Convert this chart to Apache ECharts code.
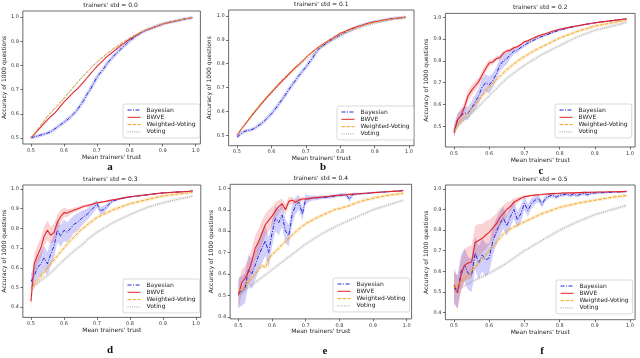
<!DOCTYPE html>
<html><head><meta charset="utf-8">
<script src="https://cdn.jsdelivr.net/npm/echarts@6/dist/echarts.min.js"></script>
<style>html,body{margin:0;padding:0;background:#fff}#c{width:640px;height:358px}</style>
</head><body><div id="c"></div>
<script>
// ---- data ----
const trust = [0.50,0.51,0.52,0.53,0.54,0.55,0.56,0.57,0.58,0.59,0.60,0.61,0.62,0.63,0.64,0.65,0.66,0.67,0.68,0.69,0.70,0.71,0.72,0.73,0.74,0.75,0.76,0.77,0.78,0.79,0.80,0.81,0.82,0.83,0.84,0.85,0.86,0.87,0.88,0.89,0.90,0.91,0.92,0.93,0.94,0.95,0.96,0.97,0.98,0.99];
const xTicks = [0.5,0.6,0.7,0.8,0.9,1.0];
const yTicksHigh = [0.5,0.6,0.7,0.8,0.9,1.0];
const yTicksLow = [0.4,0.5,0.6,0.7,0.8,0.9,1.0];
const stds = ['0.0','0.1','0.2','0.3','0.4','0.5'];
const letters = ['a','b','c','d','e','f'];
const methods = ['Bayesian','BWVE','Weighted-Voting','Voting'];

// panel a (std 0.0)
const bayesA = [.500,.505,.508,.512,.516,.520,.526,.535,.545,.555,.565,.575,.587,.600,.615,.635,.655,.680,.700,.725,.750,.768,.785,.805,.822,.837,.851,.864,.877,.890,.902,.912,.922,.931,.939,.946,.951,.956,.961,.966,.971,.975,.978,.981,.984,.987,.990,.993,.995,.998];
const bwveA = [.500,.515,.530,.545,.560,.575,.588,.600,.615,.632,.648,.662,.676,.690,.702,.716,.732,.748,.764,.780,.795,.808,.822,.835,.846,.857,.868,.879,.889,.899,.908,.917,.925,.933,.940,.946,.951,.956,.961,.966,.971,.975,.978,.981,.984,.987,.990,.993,.995,.998];
const wvA = [.500,.518,.536,.554,.572,.590,.605,.620,.635,.650,.665,.681,.697,.713,.729,.745,.759,.773,.787,.801,.815,.826,.837,.848,.859,.870,.879,.888,.897,.906,.915,.922,.928,.935,.941,.948,.953,.958,.962,.967,.972,.975,.978,.982,.985,.988,.990,.993,.995,.998];
const votA = [.500,.516,.533,.550,.568,.586,.601,.616,.631,.646,.661,.677,.693,.709,.725,.741,.756,.770,.784,.798,.812,.823,.834,.845,.856,.867,.876,.885,.894,.903,.912,.919,.926,.933,.939,.946,.951,.956,.961,.966,.971,.974,.977,.981,.984,.987,.990,.993,.995,.998];

// panel b (std 0.1)
const bayesB = [.492,.505,.515,.520,.522,.528,.538,.548,.560,.575,.590,.608,.628,.648,.668,.690,.710,.730,.750,.768,.785,.805,.825,.848,.866,.876,.886,.896,.905,.913,.921,.928,.935,.942,.948,.954,.959,.964,.968,.972,.976,.978,.981,.983,.986,.988,.990,.991,.993,.995];
const bwveB = [.500,.520,.540,.558,.577,.595,.612,.630,.647,.664,.680,.695,.711,.726,.740,.755,.770,.784,.797,.811,.825,.838,.850,.862,.872,.882,.891,.900,.909,.918,.927,.933,.939,.945,.950,.955,.959,.964,.968,.972,.976,.978,.981,.983,.986,.988,.990,.991,.993,.995];
const wvB = [.502,.522,.543,.562,.581,.600,.618,.635,.652,.668,.684,.700,.716,.731,.745,.760,.774,.787,.800,.813,.826,.838,.850,.861,.871,.881,.890,.899,.908,.916,.924,.930,.936,.942,.947,.952,.957,.962,.966,.970,.974,.977,.980,.982,.985,.987,.989,.991,.993,.995];
const votB = [.500,.519,.538,.556,.574,.592,.609,.626,.643,.659,.675,.690,.705,.720,.735,.749,.763,.777,.790,.803,.816,.828,.840,.851,.862,.872,.881,.890,.899,.907,.915,.922,.929,.935,.941,.946,.951,.956,.960,.964,.968,.972,.975,.978,.981,.984,.987,.989,.991,.993];

// panel c (std 0.2)
const bayesC = [.480,.530,.550,.560,.560,.585,.610,.640,.680,.700,.690,.710,.740,.780,.800,.810,.830,.845,.850,.862,.872,.882,.890,.898,.906,.912,.918,.924,.930,.936,.941,.945,.950,.953,.957,.960,.963,.966,.969,.972,.975,.977,.979,.981,.983,.985,.987,.989,.991,.993];
const bwveC = [.470,.530,.550,.590,.640,.665,.685,.705,.735,.765,.790,.795,.810,.815,.835,.845,.850,.860,.865,.875,.888,.892,.900,.908,.915,.920,.925,.930,.936,.941,.945,.948,.952,.955,.958,.961,.964,.967,.970,.972,.975,.977,.979,.981,.983,.985,.987,.989,.991,.993];
const wvC = [.480,.505,.525,.545,.562,.580,.600,.620,.640,.660,.680,.697,.712,.728,.745,.760,.773,.786,.798,.810,.820,.830,.840,.849,.857,.865,.873,.881,.889,.897,.905,.911,.917,.923,.929,.935,.940,.945,.950,.955,.960,.963,.966,.969,.972,.975,.978,.981,.984,.988];
const votC = [.480,.498,.515,.530,.545,.560,.575,.590,.608,.625,.640,.657,.672,.690,.705,.720,.732,.745,.757,.768,.780,.790,.800,.810,.820,.830,.838,.846,.854,.862,.870,.878,.886,.894,.902,.910,.916,.922,.928,.934,.940,.944,.948,.952,.956,.960,.964,.968,.972,.976];
const bandBayesC = [30,30,30,30,30,30,35,35,40,40,40,35,30,30,30,25,20,15,12,10,8,8,6,6,6,5,5,5,5,4,4,4,4,4,4,3,3,3,3,3,3,3,3,3,3,3,3,3,3,3];
const bandBwveC = [20,25,25,25,25,25,22,20,20,18,15,12,10,10,10,8,8,8,6,6,6,5,5,5,5,5,4,4,4,4,4,4,4,4,3,3,3,3,3,3,3,3,3,3,3,3,3,3,3,3];

// panel d (std 0.3)
const bayesD = [.530,.560,.600,.620,.650,.620,.670,.710,.790,.760,.790,.780,.800,.820,.830,.845,.860,.870,.890,.905,.925,.890,.895,.910,.930,.940,.945,.950,.954,.957,.960,.962,.964,.966,.968,.970,.972,.974,.976,.978,.980,.981,.982,.983,.984,.985,.986,.987,.988,.990];
const bwveD = [.430,.620,.665,.700,.760,.790,.765,.780,.830,.860,.880,.878,.885,.892,.898,.905,.912,.915,.920,.925,.930,.932,.935,.938,.942,.945,.948,.951,.954,.957,.960,.962,.964,.966,.968,.970,.972,.974,.976,.978,.980,.981,.982,.983,.984,.985,.986,.987,.988,.990];
const wvD = [.490,.515,.535,.555,.578,.600,.620,.640,.660,.680,.700,.720,.738,.755,.772,.790,.803,.817,.830,.843,.855,.863,.871,.879,.887,.895,.901,.907,.913,.919,.925,.929,.933,.937,.941,.945,.949,.953,.957,.961,.965,.967,.969,.971,.973,.975,.977,.979,.981,.985];
const votD = [.490,.505,.520,.535,.548,.560,.575,.590,.608,.625,.640,.655,.670,.685,.698,.710,.725,.740,.755,.768,.780,.790,.800,.810,.820,.830,.838,.846,.854,.862,.870,.877,.884,.891,.898,.905,.910,.915,.920,.925,.930,.934,.938,.942,.946,.950,.953,.956,.960,.965];
const bandBayesD = [40,50,55,60,60,60,60,60,60,55,55,50,50,45,45,40,35,30,30,25,20,20,20,15,10,8,6,5,5,5,4,4,4,4,4,3,3,3,3,3,3,3,3,3,3,3,3,3,3,3];
const bandBwveD = [40,50,50,50,50,50,45,45,40,35,25,20,15,12,10,10,8,8,6,6,5,5,5,5,5,4,4,4,4,4,4,4,4,3,3,3,3,3,3,3,3,3,3,3,3,3,3,3,3,3];

// panel e (std 0.4)
const bayesE = [.510,.520,.535,.620,.600,.640,.685,.720,.755,.700,.790,.860,.840,.875,.800,.780,.880,.920,.935,.880,.950,.952,.955,.955,.957,.958,.958,.960,.962,.965,.968,.969,.970,.950,.972,.974,.975,.976,.977,.978,.980,.981,.982,.983,.984,.985,.986,.987,.988,.990];
const bwveE = [.500,.560,.580,.610,.660,.720,.750,.790,.830,.850,.870,.895,.915,.928,.900,.940,.945,.935,.945,.950,.950,.952,.955,.957,.958,.960,.962,.963,.965,.967,.968,.969,.970,.972,.973,.974,.975,.976,.977,.978,.980,.981,.982,.983,.984,.985,.986,.987,.988,.990];
const wvE = [.520,.530,.545,.560,.580,.600,.620,.640,.630,.670,.690,.705,.720,.737,.752,.767,.782,.797,.810,.823,.835,.843,.852,.860,.868,.875,.882,.889,.896,.903,.905,.910,.915,.920,.926,.932,.937,.942,.946,.950,.954,.957,.960,.963,.966,.969,.971,.973,.975,.977];
const votE = [.500,.512,.525,.537,.548,.560,.572,.584,.596,.608,.620,.632,.644,.656,.668,.680,.692,.704,.716,.728,.740,.750,.760,.770,.780,.790,.798,.806,.814,.822,.830,.837,.844,.851,.858,.865,.872,.879,.886,.893,.900,.905,.910,.915,.920,.925,.930,.935,.940,.945];
const bandBayesE = [70,70,70,70,70,70,70,70,70,70,60,60,60,55,55,50,45,40,35,30,25,15,12,10,10,8,8,8,8,8,8,8,8,15,8,6,5,5,4,4,4,4,4,3,3,3,3,3,3,3];
const bandBwveE = [60,60,60,60,60,60,60,60,50,50,45,40,30,25,25,20,15,12,10,10,8,6,5,5,5,5,5,4,4,4,4,4,4,4,3,3,3,3,3,3,3,3,3,3,3,3,3,3,3,3];

// panel f (std 0.5)
const bayesF = [.520,.500,.600,.630,.590,.580,.690,.640,.680,.655,.665,.745,.790,.830,.860,.820,.865,.900,.850,.880,.930,.895,.930,.945,.955,.925,.955,.965,.970,.960,.970,.972,.975,.968,.975,.968,.975,.978,.972,.980,.980,.981,.982,.982,.983,.984,.985,.985,.986,.987];
const bwveF = [.535,.495,.580,.630,.640,.645,.740,.750,.760,.775,.790,.810,.830,.860,.880,.900,.915,.935,.945,.955,.962,.965,.968,.970,.972,.973,.975,.976,.977,.978,.979,.980,.980,.981,.981,.982,.982,.983,.983,.984,.984,.985,.985,.985,.986,.986,.986,.987,.987,.988];
const wvF = [.520,.535,.550,.565,.582,.600,.620,.640,.660,.680,.700,.720,.740,.760,.780,.795,.805,.815,.824,.832,.840,.848,.856,.864,.872,.880,.886,.892,.898,.904,.910,.914,.918,.922,.926,.930,.933,.936,.939,.942,.945,.948,.951,.954,.957,.960,.962,.964,.966,.968];
const votF = [.500,.510,.520,.530,.540,.550,.558,.566,.574,.582,.590,.600,.610,.620,.630,.640,.652,.664,.676,.688,.700,.710,.720,.730,.740,.750,.760,.770,.780,.790,.800,.808,.816,.824,.832,.840,.847,.854,.861,.868,.875,.880,.885,.890,.895,.900,.905,.910,.915,.920];
const bandBayesF = [80,80,80,80,80,80,80,80,80,80,70,70,65,60,55,50,50,45,40,40,35,30,25,20,20,15,15,12,12,10,10,10,10,10,10,10,10,10,10,8,6,5,5,4,4,4,3,3,3,3];
const bandBwveF = [80,80,80,80,80,80,80,80,70,70,60,55,50,45,40,35,25,20,15,10,8,6,5,5,5,5,4,4,4,4,4,4,4,4,3,3,3,3,3,3,3,3,3,3,3,3,3,3,3,3];

// ---- layout / style ----
const FONT = 'DejaVu Sans';
const colors = {Bayesian:'#2626d9', BWVE:'#e3242b', 'Weighted-Voting':'#f5a623', Voting:'#a0a0a0'};
const dashes = {Bayesian:[4,1.5,1,1.5], BWVE:'solid', 'Weighted-Voting':[3.5,1.5], Voting:[1,1.2]};
const haloOpacity = {Bayesian:0.2, BWVE:0.2, 'Weighted-Voting':0.2, Voting:0.14};
const panels = [
  {vals:[bayesA,bwveA,wvA,votA], bands:[null,null], halo:[true,false,false,false], ymin:0.475, ymax:1.025, yt:yTicksHigh,
   g:{left:20.8, top:11, width:179.6, height:133}, yGap:13.5, lg:{left:123, top:104}, let:[110,167]},
  {vals:[bayesB,bwveB,wvB,votB], bands:[null,null], halo:[true,false,false,false], ymin:0.456, ymax:1.025, yt:yTicksHigh,
   g:{left:228.6, top:10, width:185.4, height:135.7}, yGap:11.5, lg:{left:337, top:106}, let:[323,167]},
  {vals:[bayesC,bwveC,wvC,votC], bands:[bandBayesC,bandBwveC], halo:[false,false,true,true], ymin:0.405, ymax:1.018, yt:yTicksHigh,
   g:{left:445.4, top:13.4, width:189.7, height:133.6}, yGap:15, lg:{left:555, top:104}, let:[541,171]},
  {vals:[bayesD,bwveD,wvD,votD], bands:[bandBayesD,bandBwveD], halo:[false,false,true,true], ymin:0.348, ymax:1.02, yt:yTicksLow,
   g:{left:19.8, top:185, width:181, height:132.4}, yGap:12.8, lg:{left:123, top:279}, let:[110,350]},
  {vals:[bayesE,bwveE,wvE,votE], bands:[bandBayesE,bandBwveE], halo:[false,false,true,true], ymin:0.39, ymax:1.019, yt:yTicksLow,
   g:{left:230.1, top:184.3, width:181.5, height:134.6}, yGap:12.7, lg:{left:333, top:278}, let:[325,351]},
  {vals:[bayesF,bwveF,wvF,votF], bands:[bandBayesF,bandBwveF], halo:[false,false,true,true], ymin:0.365, ymax:1.019, yt:yTicksLow,
   g:{left:445.4, top:185, width:189.7, height:134.7}, yGap:12.4, lg:{left:556, top:280}, let:[542,351]}
];
const bandFill = ['rgba(40,40,230,0.22)','rgba(230,40,40,0.20)'];

function pairs(v){ return trust.map((x,i)=>[x, v[i]]); }
function bandSeries(k, vals, hw, fill){
  const data = trust.map((x,i)=>[x, vals[i]-hw[i]/1000, vals[i]+hw[i]/1000]);
  return {
    type:'custom', xAxisIndex:k, yAxisIndex:k, silent:true, z:1, clip:true,
    encode:{x:0, y:[1,2]}, data,
    renderItem(params, api){
      if (params.dataIndex !== 0) return null;
      const pts = [];
      for (let i=0;i<data.length;i++) pts.push(api.coord([data[i][0], data[i][1]]));
      for (let i=data.length-1;i>=0;i--) pts.push(api.coord([data[i][0], data[i][2]]));
      return {type:'polygon', shape:{points:pts}, style:{fill:fill}};
    }
  };
}

const grids=[], xAxes=[], yAxes=[], series=[], legends=[], graphics=[];
panels.forEach((p,k)=>{
  grids.push(Object.assign({show:true, borderColor:'#444', borderWidth:0.8, backgroundColor:'transparent'}, p.g));
  xAxes.push({type:'value', gridIndex:k, min:0.4755, max:1.0145,
    axisLine:{show:false}, splitLine:{show:false},
    axisTick:{show:true, length:2.5, lineStyle:{color:'#333', width:0.7}, customValues:xTicks},
    axisLabel:{customValues:xTicks, formatter:v=>v.toFixed(1), fontSize:5, color:'#333', margin:4, fontFamily:FONT},
    name:"Mean trainers' trust", nameLocation:'middle', nameGap:10,
    nameTextStyle:{fontSize:6, color:'#222', fontFamily:FONT}});
  yAxes.push({type:'value', gridIndex:k, min:p.ymin, max:p.ymax,
    axisLine:{show:false}, splitLine:{show:false},
    axisTick:{show:true, length:2.5, lineStyle:{color:'#333', width:0.7}, customValues:p.yt},
    axisLabel:{customValues:p.yt, formatter:v=>v.toFixed(1), fontSize:5, color:'#333', margin:4, fontFamily:FONT},
    name:'Accuracy of 1000 questions', nameLocation:'middle', nameGap:p.yGap,
    nameTextStyle:{fontSize:6, color:'#222', fontFamily:FONT}});
  // bands
  p.bands.forEach((b,j)=>{ if (b) series.push(bandSeries(k, p.vals[j], b, bandFill[j])); });
  // faint halos
  methods.forEach((m,j)=>{
    if (p.halo[j]) series.push({type:'line', xAxisIndex:k, yAxisIndex:k, data:pairs(p.vals[j]), symbol:'none', silent:true, z:1,
      lineStyle:{width:3.5, color:colors[m], opacity:haloOpacity[m]}});
  });
  // main lines
  methods.forEach((m,j)=>{
    series.push({type:'line', name:m, xAxisIndex:k, yAxisIndex:k, data:pairs(p.vals[j]), symbol:'none', z:2,
      itemStyle:{color:colors[m]},
      lineStyle:{width: m==='BWVE'?1.1:1, color:colors[m], type:dashes[m]}});
  });
  legends.push({data:methods, orient:'vertical', left:p.lg.left, top:p.lg.top, itemWidth:13, itemHeight:5, itemGap:1.3,
    padding:[3,4], borderColor:'#d0d0d0', borderWidth:0.8, borderRadius:2, backgroundColor:'rgba(255,255,255,0.85)',
    selectedMode:false, itemStyle:{opacity:0, borderWidth:0}, lineStyle:{width:1},
    textStyle:{fontSize:6, color:'#222', fontFamily:FONT, padding:[0,0,0,1]}});
  const cx = p.g.left + p.g.width/2;
  graphics.push({type:'text', x:cx, y:p.g.top-5.5, style:{text:"trainers' std = "+stds[k], font:'6px "'+FONT+'"', fill:'#222', textAlign:'center', textVerticalAlign:'middle'}});
  graphics.push({type:'text', x:p.let[0], y:p.let[1], style:{text:letters[k], font:'bold 11px "Liberation Serif"', fill:'#111', textAlign:'center', textVerticalAlign:'middle'}});
});

const chart = echarts.init(document.getElementById('c'), null, {renderer:'canvas'});
chart.setOption({animation:false, backgroundColor:'#fff', grid:grids, xAxis:xAxes, yAxis:yAxes, series, legend:legends, graphic:graphics});
</script></body></html>
